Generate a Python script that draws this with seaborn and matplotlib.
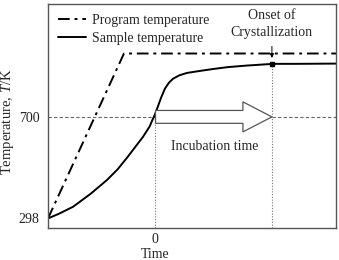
import numpy as np
import pandas as pd
import matplotlib
matplotlib.use('Agg')
import matplotlib.pyplot as plt
import matplotlib.patches as mpatches
import seaborn as sns

sns.set_style('white')
plt.rcParams['font.family'] = ['Liberation Serif', 'DejaVu Serif']
plt.rcParams['mathtext.fontset'] = 'custom'
plt.rcParams['mathtext.it'] = 'Liberation Serif:italic'
plt.rcParams['mathtext.rm'] = 'Liberation Serif'

# ---------- data (time in arbitrary units, 0 = reach 700 K) ----------
prog_time = [-1.0, -0.29, 1.692]
prog_temp = [298, 951, 951]

samp_time = [-1.0, -0.9, -0.766, -0.6, -0.449, -0.35, -0.262, -0.206, -0.112, -0.05,
             -0.028, 0.0, 0.028, 0.056, 0.093, 0.13, 0.168, 0.23, 0.299, 0.42,
             0.55, 0.68, 0.85, 1.103, 1.3, 1.692]
samp_temp = [298, 316, 344, 396, 450, 492, 538, 569, 621, 662,
             684, 710, 742, 775, 812, 835, 851, 865, 874, 882,
             890, 897, 903, 910, 910, 911]

onset_time = 1.093
onset_temp = 910
ref_temp = 700
yticks = [298, 700]
xticks = [0]

df_prog = pd.DataFrame({'t': prog_time, 'T': prog_temp})
df_samp = pd.DataFrame({'t': samp_time, 'T': samp_temp})

fig = plt.figure(figsize=(3.39, 2.6), dpi=100)
ax = fig.add_axes([48/339, 1-227.5/260, 288/339, 223.5/260])

# guide lines
ax.plot([-1.0, 0], [ref_temp, ref_temp], color='#666666', lw=0.8, ls=(0, (3, 2)))
ax.plot([onset_time, 1.692], [ref_temp, ref_temp], color='#666666', lw=0.8, ls=(0, (3, 2)))
ax.plot([0, 0], [262, ref_temp], color='#777777', lw=0.8, ls=(0, (1, 1.5)))
ax.plot([onset_time, onset_time], [262, onset_temp], color='#777777', lw=0.8, ls=(0, (1, 1.5)))

sns.lineplot(data=df_prog, x='t', y='T', ax=ax, color='black', lw=1.4,
             linestyle=(0, (6, 2.5, 1.5, 2.5)), label='Program temperature', sort=False)
sns.lineplot(data=df_samp, x='t', y='T', ax=ax, color='black', lw=1.4,
             label='Sample temperature', sort=False)

ax.plot([onset_time], [onset_temp], marker='s', ms=3.5, color='black')

# incubation arrow
arr = mpatches.FancyArrow(0.005, ref_temp, onset_time - 0.005, 0, width=51, head_width=119,
                          head_length=0.271, length_includes_head=True,
                          fc='white', ec='#555555', lw=0.9, zorder=3)
ax.add_patch(arr)
ax.text(0.56, 581, 'Incubation time', ha='center', va='center', fontsize=10)

ax.annotate('', xy=(onset_time, onset_temp + 12), xytext=(onset_time, 990),
            arrowprops=dict(arrowstyle='-|>', color='black', lw=0.7, mutation_scale=6))
ax.text(onset_time, 1068, 'Onset of\nCrystallization', ha='center', va='center',
        fontsize=10, linespacing=1.35)

ax.set_xlim(-1.0, 1.692)
ax.set_ylim(262, 1147)
ax.set_xticks(xticks)
ax.set_yticks(yticks)
ax.tick_params(length=0, labelsize=10, colors='#222222')
ax.tick_params(axis='x', pad=4)
ax.tick_params(axis='y', pad=6)
for s in ax.spines.values():
    s.set_color('#555555')
    s.set_linewidth(1.0)

ax.set_xlabel('Time', fontsize=10)
ax.xaxis.set_label_coords(107/288, -0.09)
ax.set_ylabel('Temperature, $T$/K', fontsize=10.5)
ax.yaxis.set_label_coords(-0.112, 0.472)

ax.legend(loc='upper left', frameon=False, fontsize=10, handlelength=2.0,
          handletextpad=0.5, labelspacing=0.35, borderaxespad=0.3)

fig.savefig('out.png', dpi=100)
